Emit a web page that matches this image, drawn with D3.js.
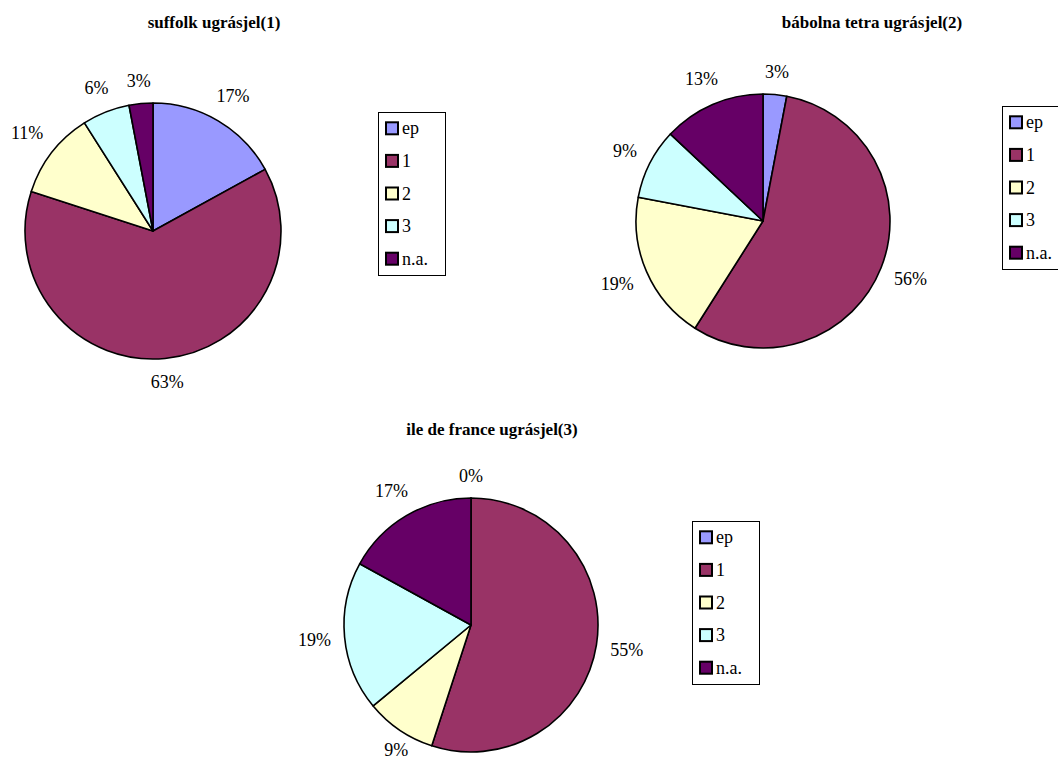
<!DOCTYPE html>
<html><head><meta charset="utf-8">
<script src="https://cdn.jsdelivr.net/npm/d3@7"></script>
<style>
body{margin:0;background:#fff}svg{display:block}
text{font-family:"Liberation Serif","Times New Roman",Tinos,"DejaVu Serif",serif}
</style>
</head><body>
<svg id="c" width="1058" height="761"></svg>
<script>
const categories = ["ep", "1", "2", "3", "n.a."];
const colors = ["#9999FF", "#993366", "#FFFFCC", "#CCFFFF", "#660066"];
const titles = ["suffolk ugrásjel(1)", "bábolna tetra ugrásjel(2)", "ile de france ugrásjel(3)"];
const suffolk = [17, 63, 11, 6, 3];
const babolna = [3, 56, 19, 9, 13];
const ileDeFrance = [0, 55, 9, 19, 17];

const W = 1058, H = 761;
const charts = [
  {values: suffolk, title: titles[0], cx: 153, cy: 231, r: 128, tx: 214, ty: 28, lx: 378, ly: 112, lw: 67, lh: 163},
  {values: babolna, title: titles[1], cx: 763, cy: 221, r: 127, tx: 872, ty: 28, lx: 1002, ly: 106, lw: 67, lh: 163},
  {values: ileDeFrance, title: titles[2], cx: 471, cy: 625, r: 127, tx: 492, ty: 435, lx: 692, ly: 521, lw: 67, lh: 163}
];

const svg = d3.select("#c");
const pie = d3.pie().sort(null).value(d => d.v).startAngle(0).endAngle(2 * Math.PI);
const color = d3.scaleOrdinal().domain(categories).range(colors);

charts.forEach(ch => {
  const data = categories.map((c, i) => ({c, v: ch.values[i]}));
  const total = d3.sum(ch.values);
  const arcs = pie(data);
  const arc = d3.arc().innerRadius(0).outerRadius(ch.r);
  const g = svg.append("g").attr("transform", `translate(${ch.cx},${ch.cy})`);
  g.selectAll("path").data(arcs).join("path")
    .attr("d", arc)
    .attr("fill", d => color(d.data.c))
    .attr("stroke", "#000").attr("stroke-width", 1.6).attr("stroke-linejoin", "round");
  g.selectAll("text").data(arcs).join("text")
    .attr("font-size", 18)
    .attr("text-anchor", "middle").attr("dominant-baseline", "central")
    .text(d => Math.round(d.data.v / total * 100) + "%")
    .each(function(d) {
      const a = (d.startAngle + d.endAngle) / 2;
      const bb = this.getBBox();
      const s = Math.abs(Math.sin(a)), c = Math.abs(Math.cos(a));
      const rr = ch.r + 13 + (bb.width / 2) * s + 9 * c;
      let x = rr * Math.sin(a), y = -rr * Math.cos(a);
      // keep the label inside the picture
      const maxY = H - 11 - ch.cy;
      if (y > maxY) { y = maxY; x = x + (x < 0 ? 12 : -12); }
      d3.select(this).attr("x", x).attr("y", y);
    });
  svg.append("text").attr("x", ch.tx).attr("y", ch.ty)
    .attr("text-anchor", "middle")
    .attr("font-weight", "bold").attr("font-size", 17).text(ch.title);
  const lg = svg.append("g").attr("transform", `translate(${ch.lx},${ch.ly})`);
  lg.append("rect").attr("x", 0.5).attr("y", 0.5).attr("width", ch.lw).attr("height", ch.lh)
    .attr("fill", "#fff").attr("stroke", "#000").attr("stroke-width", 1);
  const ly = d3.scaleBand().domain(categories).range([0, ch.lh]).padding(0);
  const items = lg.selectAll("g.it").data(categories).join("g").attr("class", "it")
    .attr("transform", d => `translate(0,${ly(d) + ly.bandwidth() / 2})`);
  items.append("rect").attr("x", 8).attr("y", -6).attr("width", 12).attr("height", 12)
    .attr("fill", d => color(d)).attr("stroke", "#000").attr("stroke-width", 2);
  items.append("text").attr("x", 24).attr("y", 0).attr("dominant-baseline", "central")
    .attr("font-size", 18).text(d => d);
});
</script>
</body></html>
